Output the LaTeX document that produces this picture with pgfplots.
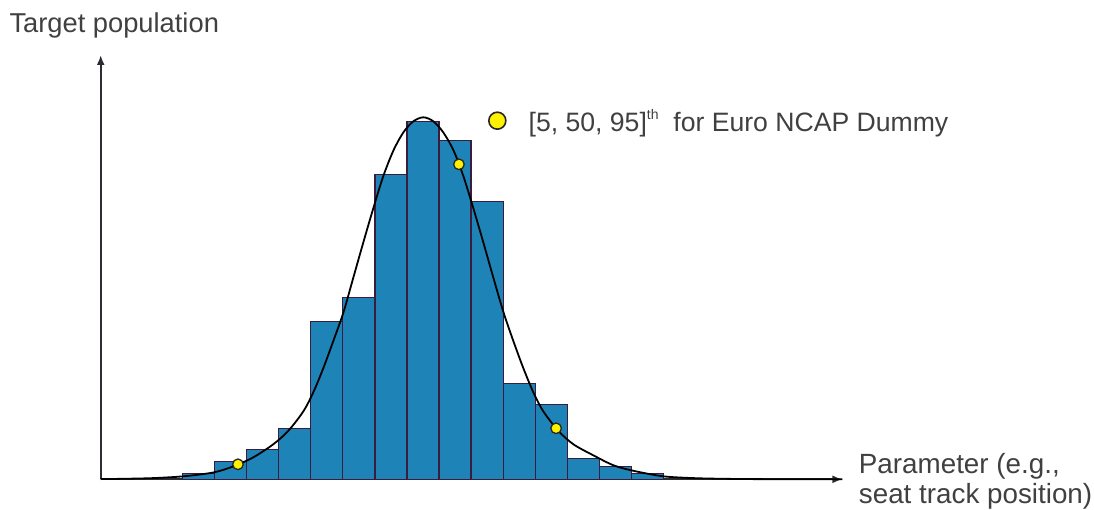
\documentclass[border=0pt]{standalone}
\usepackage{fontspec}
\setmainfont{Liberation Sans}
\usepackage{pgfplots}
\pgfplotsset{compat=1.18}
\usetikzlibrary{arrows.meta}

\definecolor{barblue}{RGB}{30,132,183}
\definecolor{baredge}{RGB}{58,28,62}
\definecolor{axiscol}{RGB}{42,46,52}
\definecolor{textgray}{RGB}{64,64,64}

\begin{document}
\begin{tikzpicture}
\path[use as bounding box] (0,0) rectangle (1094pt,509pt);
\begin{axis}[
    at={(100.7pt,29.7pt)}, anchor=south west,
    x=32.07pt, y=1pt,
    xmin=-2.05, xmax=21.08, ymin=0, ymax=424.3,
    axis lines=left, ticks=none, clip=false,
    axis line style={axiscol, line width=2pt},
    x axis line style={-{Latex[length=10pt,width=8pt]}},
    y axis line style={-{Latex[length=10pt,width=8pt]}},
    xlabel={Parameter (e.g.,\\seat track position)},
    ylabel={Target population},
    label style={text=textgray, inner sep=0pt},
    xlabel style={font=\fontsize{27.8}{30}\selectfont, align=left, anchor=base west,
        at={(axis description cs:1.0219,-0.0566)}},
    ylabel style={font=\fontsize{27.3}{30}\selectfont, rotate=-90, anchor=base west,
        at={(axis description cs:-0.1232,1.0519)}},
    legend style={draw=none, fill=none, at={(axis description cs:0.5219,0.8452)}, anchor=west,
        inner sep=0pt, font=\fontsize{26.6}{30}\selectfont, text=textgray,
        nodes={inner sep=0pt}, column sep=22pt},
    legend image code/.code={\draw[fill=yellow, draw=black!85, line width=1.6pt] (8.5pt,0pt) circle (8.5pt);},
]
% histogram (bar heights in px of the reference)
\addplot[ybar interval, fill=barblue, draw=baredge, line width=1.3pt, forget plot] coordinates {
    (0.5,5.5) (1.5,17.5) (2.5,30) (3.5,51) (4.5,158) (5.5,182) (6.5,305) (7.5,357.5)
    (8.5,339) (9.5,277.5) (10.5,96) (11.5,75) (12.5,21) (13.5,12.5) (14.5,5.5) (15.5,5.5)
};
% fitted density curve
\addplot[smooth, black, line width=1.8pt, forget plot] coordinates {
    (-2.05,0.2) (-1.35,0.5) (-0.41,1.2) (0.53,3) (1.46,6.8) (2.09,13) (2.71,22)
    (3.33,35) (3.80,48.5) (4.27,68) (4.58,87) (4.89,111) (5.20,138) (5.52,167)
    (5.83,202) (6.14,237) (6.45,271) (6.76,303) (7.08,329) (7.39,347) (7.70,358)
    (8.01,362)
    (8.32,358) (8.63,347) (8.95,329) (9.26,303) (9.57,271) (9.88,237) (10.19,202)
    (10.51,167) (10.82,138) (11.13,111) (11.44,87) (11.75,68) (12.22,48.5) (12.69,35)
    (13.31,24) (13.94,14) (14.56,8.5) (15.49,3) (16.43,1.2) (17.37,0.5) (18.61,0.15)
    (21.08,0)
};
% percentiles
\addplot[only marks, mark=*, mark size=5.3pt, mark options={fill=yellow, draw=black!85, line width=1.3pt}]
    coordinates {(2.23,15) (9.12,315) (12.15,51)};
\addlegendentry{[5, 50, 95]\raisebox{12pt}{\fontsize{14}{14}\selectfont th}\ \ for Euro NCAP Dummy}
\end{axis}
\end{tikzpicture}
\end{document}
